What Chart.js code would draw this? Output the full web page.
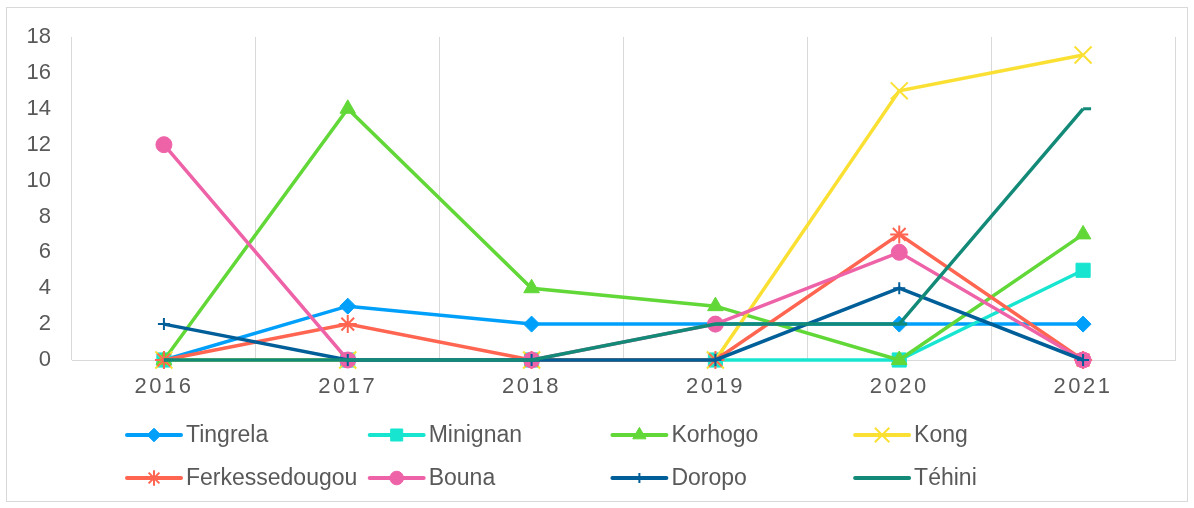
<!DOCTYPE html>
<html><head><meta charset="utf-8">
<script src="https://cdn.jsdelivr.net/npm/chart.js@4/dist/chart.umd.min.js"></script>
<style>
body{margin:0;background:#fff}
#frame{position:absolute;left:6px;top:7px;width:1182px;height:495px;border:1px solid #d9d9d9;box-sizing:border-box}
canvas{position:absolute;left:0;top:0}
</style></head>
<body><div id="frame"></div><canvas id="c" width="1194" height="508"></canvas>
<script>
const categories = ['2016','2017','2018','2019','2020','2021'];
const seriesNames = ['Tingrela','Minignan','Korhogo','Kong','Ferkessedougou','Bouna','Doropo','Téhini'];
const tingrela = [0,3,2,2,2,2];
const minignan = [0,0,0,0,0,5];
const korhogo = [0,14,4,3,0,7];
const kong = [0,0,0,0,15,17];
const ferkessedougou = [0,2,0,0,7,0];
const bouna = [12,0,0,2,6,0];
const doropo = [2,0,0,0,4,0];
const tehini = [0,0,0,2,2,14];
const seriesValues = [tingrela,minignan,korhogo,kong,ferkessedougou,bouna,doropo,tehini];
const colors = ['#00A0FA','#17E5D0','#62D838','#FBE034','#FF6550','#EE62A8','#005E98','#138A78'];
const pointStyles = ['rectRot','rect','triangle','crossRot','star','circle','cross','dash'];
const pointRadii = [8,10,9,12,9,8,6,8];
const pointBorders = [1,1,1,2,2,1,2,3];

const FONT = '"Liberation Sans", Arial, sans-serif';
const TXT = '#595959';

const datasets = seriesNames.map((n,i)=>({
  label:n, data:seriesValues[i],
  borderColor:colors[i], backgroundColor:colors[i],
  borderWidth:3.5, pointStyle:pointStyles[i], pointRadius:pointRadii[i],
  pointBorderWidth:pointBorders[i], pointBackgroundColor:colors[i], pointBorderColor:colors[i],
  pointHoverRadius:pointRadii[i], tension:0, clip:false, order:seriesNames.length-i
}));

const legendPlugin = {
  id:'gridLegend',
  afterDraw(chart){
    const ctx = chart.ctx;
    const cols = 4, colW = 242.7, x0 = 127, rowY = [435, 478], lineW = 54;
    ctx.save();
    ctx.font = '23px ' + FONT;
    ctx.textBaseline = 'middle';
    ctx.textAlign = 'left';
    seriesNames.forEach((n,i)=>{
      const x = x0 + (i%cols)*colW, y = rowY[Math.floor(i/cols)];
      ctx.strokeStyle = colors[i]; ctx.lineWidth = 4; ctx.lineCap='round';
      ctx.beginPath(); ctx.moveTo(x,y); ctx.lineTo(x+lineW,y); ctx.stroke();
      ctx.lineCap='butt';
      ctx.fillStyle = colors[i]; ctx.strokeStyle = colors[i]; ctx.lineWidth = pointBorders[i];
      if (pointStyles[i] !== 'dash') {
        Chart.helpers.drawPoint(ctx,{pointStyle:pointStyles[i],radius:pointRadii[i]*0.85,rotation:0,borderWidth:pointBorders[i]},x+lineW/2,y);
      }
      ctx.fillStyle = TXT;
      ctx.fillText(n, x+lineW+5, y+1);
    });
    ctx.restore();
  },
  beforeDraw(chart){
    const s = chart.scales.x;
    if (s && !s._ls){
      const orig = s.drawLabels;
      s.drawLabels = function(a){ this.ctx.save(); this.ctx.letterSpacing='2.5px'; orig.call(this,a); this.ctx.restore(); };
      s._ls = true;
    }
  }
};

new Chart(document.getElementById('c'),{
  type:'line',
  data:{labels:categories, datasets},
  options:{
    responsive:false, animation:false,
    layout:{padding:{left:0,top:37,right:19,bottom:0}},
    plugins:{legend:{display:false},tooltip:{enabled:false}},
    scales:{
      x:{offset:true,
        grid:{offset:true,color:'#d9d9d9',lineWidth:1,drawTicks:false},
        border:{color:'#d9d9d9',width:1},
        ticks:{font:{family:FONT,size:22},color:TXT,padding:14},
        afterFit(s){ s.height = 148; }
      },
      y:{min:0,max:18,
        ticks:{stepSize:2,font:{family:FONT,size:22},color:TXT,padding:21},
        grid:{display:false,drawTicks:false},
        border:{display:false},
        afterFit(s){ s.width = 72; }
      }
    }
  },
  plugins:[legendPlugin]
});
</script>
</body></html>
